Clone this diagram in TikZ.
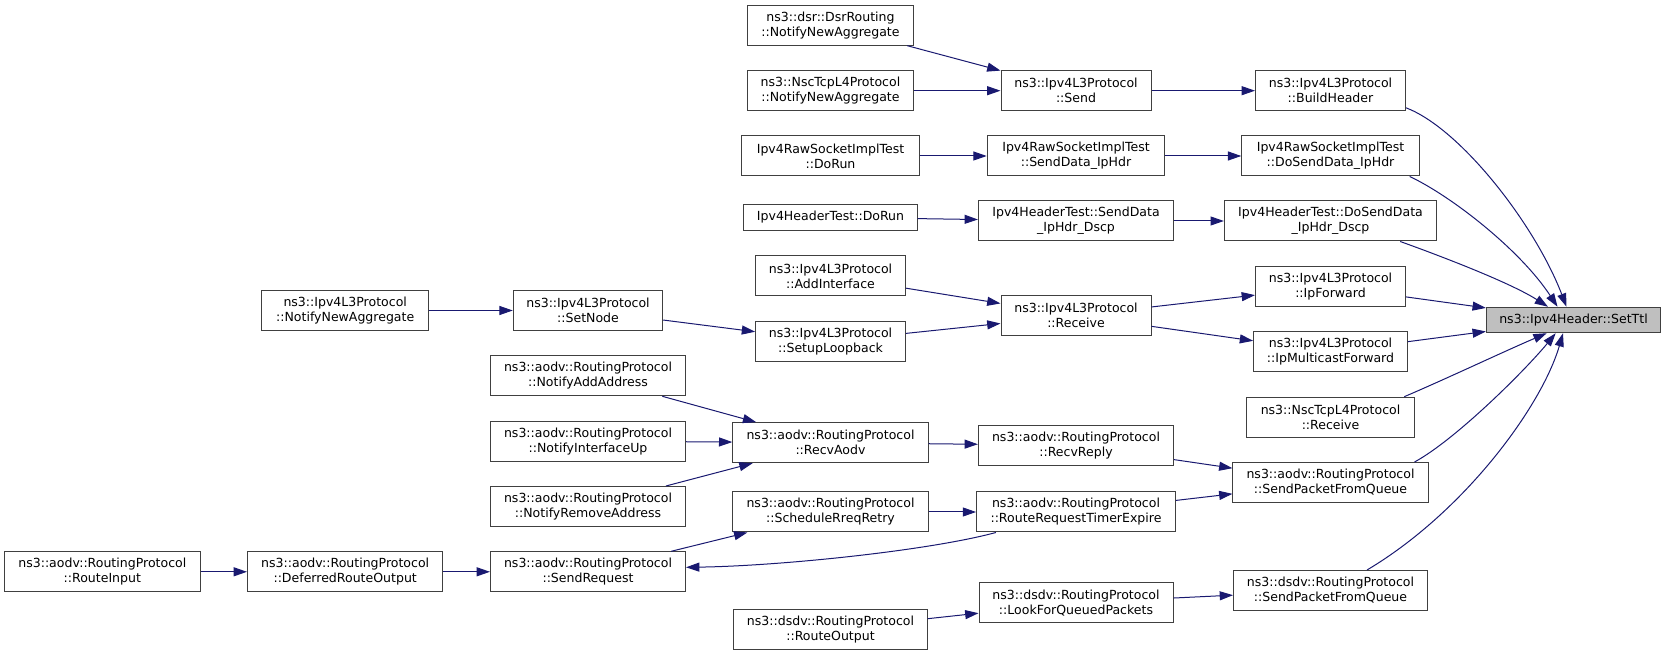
\documentclass[tikz,border=0pt]{standalone}
\usepackage{fontspec}
\setmainfont{DejaVu Sans}
\usetikzlibrary{arrows.meta,calc}
\definecolor{edgecol}{HTML}{191970}
\definecolor{boxline}{HTML}{404040}
\definecolor{hilite}{HTML}{BFBFBF}
\begin{document}
\begin{tikzpicture}[x=0.75pt,y=-0.75pt,
  fn/.style={draw=boxline, line width=0.75pt, fill=white, inner sep=0pt, align=center,
             font=\fontsize{9.4pt}{11.25pt}\selectfont, minimum height=30pt},
  fone/.style={fn, minimum height=19.1pt},
  conn/.style={draw=edgecol, line width=0.75pt, -{Triangle[length=10pt,width=6.75pt]}}]
\useasboundingbox (0,0) rectangle (1667,655);

% rank 0
\node[fone, fill=hilite, minimum width=130.7pt] (settl) at (1573.5,320) {ns3::Ipv4Header::SetTtl};

% rank 1
\node[fn, minimum width=112.5pt] (buildh) at (1330.5,90.7) {ns3::Ipv4L3Protocol\\::BuildHeader};
\node[fn, minimum width=133.1pt] (dosendraw) at (1330.5,156) {Ipv4RawSocketImplTest\\::DoSendData\_IpHdr};
\node[fn, minimum width=159.2pt] (dosenddscp) at (1330.5,221) {Ipv4HeaderTest::DoSendData\\\_IpHdr\_Dscp};
\node[fn, minimum width=112.5pt] (ipfwd) at (1330.5,286.5) {ns3::Ipv4L3Protocol\\::IpForward};
\node[fn, minimum width=115.3pt] (ipmcast) at (1330.5,351.8) {ns3::Ipv4L3Protocol\\::IpMulticastForward};
\node[fn, minimum width=125.6pt] (nscrecv) at (1330.5,417.2) {ns3::NscTcpL4Protocol\\::Receive};
\node[fn, minimum width=146.3pt] (aodvspfq) at (1330.5,482.5) {ns3::aodv::RoutingProtocol\\::SendPacketFromQueue};
\node[fn, minimum width=145.5pt] (dsdvspfq) at (1330.5,590.5) {ns3::dsdv::RoutingProtocol\\::SendPacketFromQueue};

% rank 2
\node[fn, minimum width=112.5pt] (send) at (1076,90.7) {ns3::Ipv4L3Protocol\\::Send};
\node[fn, minimum width=133.2pt] (senddataraw) at (1076,156) {Ipv4RawSocketImplTest\\::SendData\_IpHdr};
\node[fn, minimum width=146.4pt] (senddatadscp) at (1076,221) {Ipv4HeaderTest::SendData\\\_IpHdr\_Dscp};
\node[fn, minimum width=112.5pt] (receive) at (1076,315.6) {ns3::Ipv4L3Protocol\\::Receive};
\node[fn, minimum width=146.4pt] (recvreply) at (1076,445.3) {ns3::aodv::RoutingProtocol\\::RecvReply};
\node[fn, minimum width=149.1pt] (rrte) at (1076,512) {ns3::aodv::RoutingProtocol\\::RouteRequestTimerExpire};
\node[fn, minimum width=145.5pt] (lfqp) at (1076,602.7) {ns3::dsdv::RoutingProtocol\\::LookForQueuedPackets};

% rank 3
\node[fn, minimum width=125.1pt] (dsrnna) at (830.5,25.2) {ns3::dsr::DsrRouting\\::NotifyNewAggregate};
\node[fn, minimum width=125.1pt] (nscnna) at (830.5,90.7) {ns3::NscTcpL4Protocol\\::NotifyNewAggregate};
\node[fn, minimum width=133.1pt] (rawdorun) at (830.5,156) {Ipv4RawSocketImplTest\\::DoRun};
\node[fone, minimum width=130.1pt] (hdrdorun) at (830.5,217.3) {Ipv4HeaderTest::DoRun};
\node[fn, minimum width=112.3pt] (addif) at (830.5,276) {ns3::Ipv4L3Protocol\\::AddInterface};
\node[fn, minimum width=112.3pt] (setuplb) at (830.5,341.3) {ns3::Ipv4L3Protocol\\::SetupLoopback};
\node[fn, minimum width=146.5pt] (recvaodv) at (830.5,442.7) {ns3::aodv::RoutingProtocol\\::RecvAodv};
\node[fn, minimum width=146.5pt] (schedrreq) at (830.5,512) {ns3::aodv::RoutingProtocol\\::ScheduleRreqRetry};
\node[fn, minimum width=145.1pt] (dsdvro) at (830.5,629.2) {ns3::dsdv::RoutingProtocol\\::RouteOutput};

% rank 4
\node[fn, minimum width=112.1pt] (setnode) at (588,310.5) {ns3::Ipv4L3Protocol\\::SetNode};
\node[fn, minimum width=146.3pt] (notifyadd) at (588,375.8) {ns3::aodv::RoutingProtocol\\::NotifyAddAddress};
\node[fn, minimum width=146.3pt] (notifyifup) at (588,441.1) {ns3::aodv::RoutingProtocol\\::NotifyInterfaceUp};
\node[fn, minimum width=146.3pt] (notifyrm) at (588,506.5) {ns3::aodv::RoutingProtocol\\::NotifyRemoveAddress};
\node[fn, minimum width=146.3pt] (sendreq) at (588,571.8) {ns3::aodv::RoutingProtocol\\::SendRequest};

% rank 5
\node[fn, minimum width=125.1pt] (ipnna) at (345.2,310.5) {ns3::Ipv4L3Protocol\\::NotifyNewAggregate};
\node[fn, minimum width=146.6pt] (deferred) at (345.2,571.8) {ns3::aodv::RoutingProtocol\\::DeferredRouteOutput};

% rank 6
\node[fn, minimum width=146.6pt] (routeinput) at (102.3,571.8) {ns3::aodv::RoutingProtocol\\::RouteInput};

% straight connectors
\draw[conn] (dsrnna) -- (send);
\draw[conn] (nscnna) -- (send);
\draw[conn] (rawdorun) -- (senddataraw);
\draw[conn] (hdrdorun) -- (senddatadscp);
\draw[conn] (addif) -- (receive);
\draw[conn] (setuplb) -- (receive);
\draw[conn] (setnode) -- (setuplb);
\draw[conn] (ipnna) -- (setnode);
\draw[conn] (send) -- (buildh);
\draw[conn] (senddataraw) -- (dosendraw);
\draw[conn] (senddatadscp) -- (dosenddscp);
\draw[conn] (receive) -- (ipfwd);
\draw[conn] (receive) -- (ipmcast);
\draw[conn] (ipfwd) -- (settl);
\draw[conn] (ipmcast) -- (settl);
\draw[conn] (recvreply) -- (aodvspfq);
\draw[conn] (rrte) -- (aodvspfq);
\draw[conn] (lfqp) -- (dsdvspfq);
\draw[conn] (recvaodv) -- (recvreply);
\draw[conn] (schedrreq) -- (rrte);
\draw[conn] (sendreq) -- (schedrreq);
\draw[conn] (notifyadd) -- (recvaodv);
\draw[conn] (notifyifup) -- (recvaodv);
\draw[conn] (notifyrm) -- (recvaodv);
\draw[conn] (deferred) -- (sendreq);
\draw[conn] (routeinput) -- (deferred);
\draw[conn] (dsdvro) -- (lfqp);

% curved connectors
\draw[conn] ($(buildh.south east)+(0,-3.4)$) .. controls +(54.4,20.7) and +(-31.5,-82.3) .. ($(settl.north)+(-7,0)$);
\draw[conn] ($(dosendraw.south east)+(-10.1,0)$) .. controls +(40.8,19) and +(-37.5,-57.3) .. ($(settl.north)+(-16,0)$);
\draw[conn] ($(dosenddscp.south)+(69.7,0)$) .. controls +(39.8,14.3) and +(-38,-24.3) .. ($(settl.north)+(-25.5,0)$);
\draw[conn] ($(nscrecv.north east)+(-10.5,0)$) .. controls +(40,-17) and +(-40,17) .. ($(settl.south)+(-26.8,0)$);
\draw[conn] ($(aodvspfq.north east)+(-14,0)$) .. controls +(41,-22.3) and +(-30.7,37.3) .. ($(settl.south)+(-17.8,0)$);
\draw[conn] ($(dsdvspfq.north)+(36.5,0)$) .. controls +(98,-58.3) and +(-21,72.3) .. ($(settl.south)+(-10.5,0)$);
\draw[conn] ($(rrte.south west)+(19.8,0)$) .. controls +(-66.4,18) and +(94.6,-1.3) .. ($(sendreq.east)+(0,-4.5)$);
\end{tikzpicture}
\end{document}
